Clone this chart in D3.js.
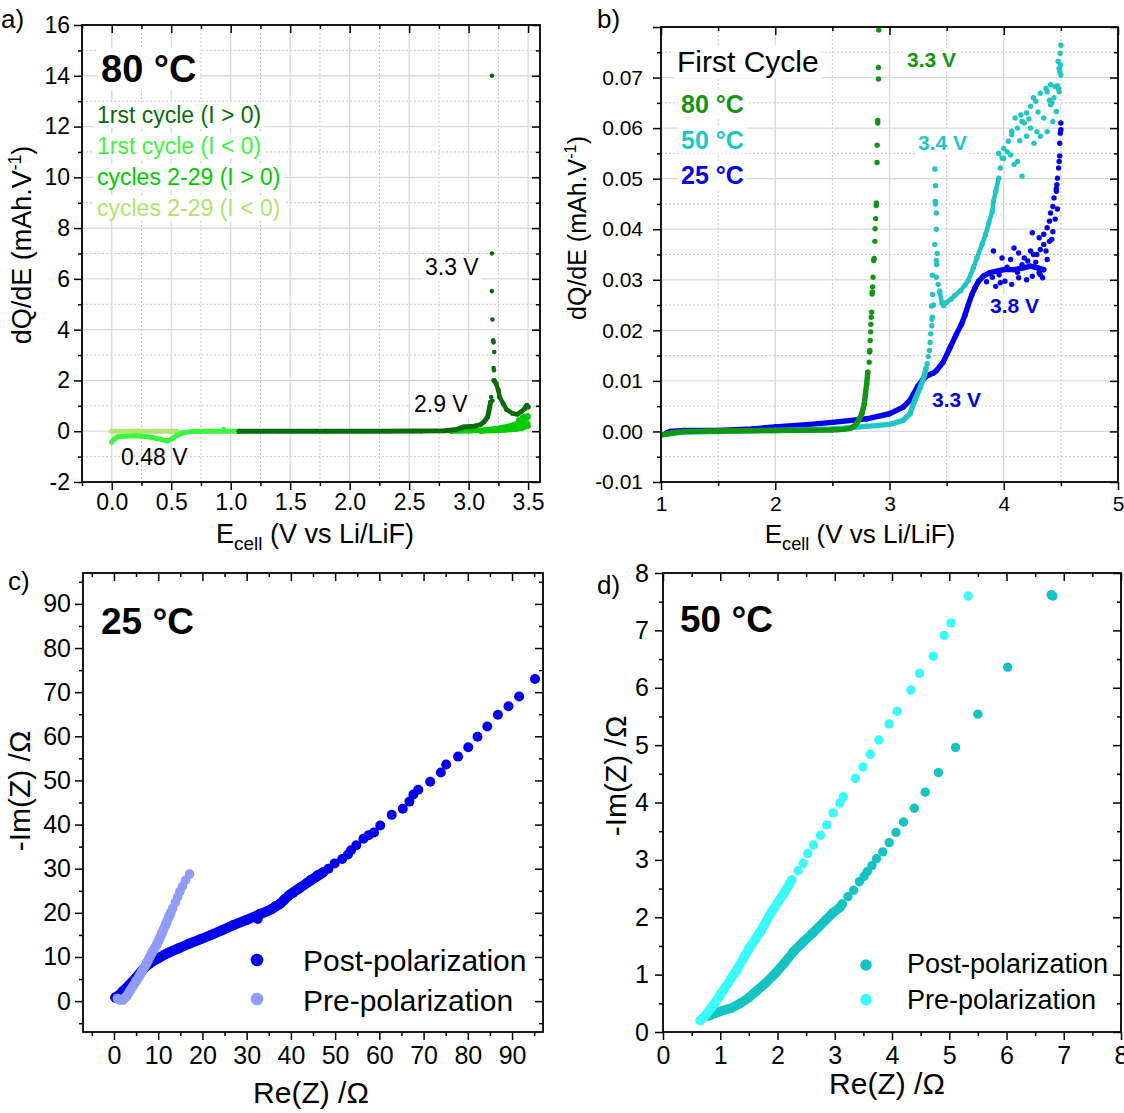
<!DOCTYPE html>
<html><head><meta charset="utf-8">
<script src="https://cdn.jsdelivr.net/npm/d3@7"></script>
<style>body{margin:0;background:#fff} text{font-family:"Liberation Sans",Arial,sans-serif}</style>
</head><body><svg id="c" width="1124" height="1113"></svg>
<script>
// ---------- Panel a data: dQ/dE at 80 °C ----------
const aCyc1PosLine = [[1.07,0],[1.4,0],[1.8,0],[2.2,0],[2.6,0.005],[2.8,0.02],[2.9,0.07],[2.96,0.17],[3.05,0.2],[3.1,0.26],[3.13,0.37],[3.16,0.56],[3.175,0.9],[3.185,1.15]];
const aCyc1PosPeak = [[3.196,14.0],[3.196,7.0],[3.195,5.52],[3.2,4.4],[3.207,3.58],[3.21,3.5],[3.215,3.12],[3.21,2.49],[3.213,2.4],[3.21,2.0],[3.19,1.35],[3.2,1.2]];
const aCyc1PosDecay = [[3.215,2.0],[3.23,1.88],[3.25,1.61],[3.26,1.35],[3.29,1.09],[3.32,0.85],[3.37,0.7],[3.41,0.67],[3.44,0.76],[3.47,0.89],[3.49,1.02],[3.5,0.95]];
const aCyc1Neg = [[0.0,-0.42],[0.02,-0.32],[0.05,-0.22],[0.1,-0.2],[0.2,-0.18],[0.3,-0.22],[0.35,-0.26],[0.42,-0.33],[0.47,-0.39],[0.5,-0.32],[0.53,-0.22],[0.59,-0.07],[0.68,-0.01],[0.8,0],[0.95,0],[1.07,0]];
const aCycNPosUpper = [[2.85,0],[3.0,0.01],[3.1,0.04],[3.25,0.12],[3.35,0.22],[3.42,0.33],[3.47,0.45],[3.5,0.55]];
const aCycNPosLower = [[3.1,0.0],[3.3,0.04],[3.4,0.08],[3.45,0.12],[3.5,0.2]];
const aCycNPosScatter = [[3.42,0.45],[3.45,0.55],[3.47,0.6],[3.49,0.5],[3.5,0.3],[3.48,0.25],[3.46,0.3],[3.5,0.62],[3.44,0.2],[3.4,0.15]];
const aCycNNeg = [[0.0,0],[0.25,0],[0.5,0],[0.55,0]];
const aLegend = ["1rst cycle (I > 0)","1rst cycle (I < 0)","cycles 2-29 (I > 0)","cycles 2-29 (I < 0)"];
const aXTicks = [0,0.5,1,1.5,2,2.5,3,3.5];
const aYTicks = [-2,0,2,4,6,8,10,12,14,16];

// ---------- Panel b data: first cycle ----------
const bBlueLine = [[1.05,-0.0003],[1.08,0.0],[1.2,0.0002],[1.5,0.0002],[1.8,0.0005],[2.0,0.0009],[2.3,0.0014],[2.5,0.0018],[2.8,0.0025],[3.0,0.0035],[3.12,0.0048],[3.18,0.0062],[3.21,0.0074],[3.25,0.009],[3.29,0.0102],[3.33,0.011],[3.38,0.0115],[3.41,0.012],[3.47,0.0137],[3.53,0.0166],[3.58,0.019],[3.63,0.0212],[3.66,0.023],[3.69,0.0251],[3.72,0.027],[3.75,0.0285],[3.78,0.0297],[3.82,0.0307],[3.88,0.0314],[3.94,0.0317],[4.0,0.032],[4.09,0.032],[4.18,0.0324],[4.235,0.0327],[4.29,0.0324],[4.35,0.032]];
const bBlueScatter = [[3.91,0.0357],[3.985,0.0343],[4.06,0.034],[4.09,0.0363],[4.13,0.0353],[4.18,0.0343],[4.21,0.0337],[4.235,0.0357],[4.26,0.035],[3.93,0.0287],[3.97,0.0294],[4.01,0.0297],[4.07,0.0291],[4.13,0.0304],[4.2,0.03],[4.25,0.0307],[4.31,0.0314],[4.34,0.0304],[3.85,0.0296],[3.9,0.0305],[3.96,0.031],[4.03,0.0325],[4.12,0.0315],[4.16,0.033],[4.28,0.0335],[4.32,0.031],[4.25,0.0393],[4.31,0.0383],[4.35,0.039],[4.38,0.0403],[4.4,0.0416],[4.41,0.0432],[4.43,0.0445],[4.44,0.0462],[4.46,0.0475],[4.465,0.0488],[4.47,0.0501],[4.48,0.0521],[4.485,0.0534],[4.49,0.057],[4.5,0.0597],[4.5,0.061],[4.37,0.0357],[4.29,0.035],[4.32,0.036],[4.4,0.0376],[4.35,0.037],[4.42,0.038],[4.45,0.042],[4.38,0.034],[4.43,0.0395],[4.47,0.044],[4.49,0.0545],[4.495,0.059],[4.46,0.048]];
const bCyanLine = [[1.05,-0.0005],[1.2,-0.0001],[1.5,0.0],[2.0,0.0002],[2.5,0.0005],[2.8,0.001],[3.0,0.0014],[3.12,0.0022],[3.18,0.0035],[3.22,0.0061],[3.27,0.0088],[3.3,0.0107],[3.32,0.0125]];
const bCyanSpike = [[3.33,0.0134],[3.34,0.0148],[3.35,0.016],[3.356,0.0176],[3.36,0.0193],[3.37,0.0209],[3.375,0.0226],[3.385,0.025],[3.37,0.0222],[3.368,0.0248],[3.376,0.0271],[3.375,0.0309],[3.397,0.0519],[3.403,0.0486],[3.4,0.0455],[3.402,0.045],[3.41,0.0432],[3.41,0.04],[3.397,0.037],[3.418,0.0352],[3.41,0.0338],[3.412,0.033],[3.41,0.0305],[3.426,0.0291],[3.44,0.0278]];
const bCyanRise = [[3.44,0.0275],[3.46,0.0253],[3.475,0.0249],[3.5,0.0255],[3.54,0.0262],[3.57,0.0269],[3.62,0.0278],[3.66,0.0289],[3.69,0.0299],[3.735,0.0324],[3.765,0.0343],[3.81,0.037],[3.84,0.0389],[3.87,0.0413],[3.9,0.0435],[3.91,0.0455],[3.93,0.0475],[3.956,0.0501]];
const bCyanScatter = [[3.97,0.0521],[3.985,0.0541],[4.0,0.056],[4.04,0.0574],[4.07,0.0587],[4.12,0.06],[4.16,0.0613],[4.2,0.063],[4.235,0.0643],[4.28,0.0653],[4.32,0.0669],[4.37,0.0679],[4.41,0.0686],[4.47,0.0684],[4.16,0.0505],[4.0,0.054],[3.956,0.055],[4.06,0.0547],[4.12,0.0534],[4.09,0.0528],[4.29,0.0593],[4.32,0.0584],[4.38,0.0593],[4.43,0.0613],[4.46,0.0633],[4.35,0.062],[4.2,0.0584],[4.265,0.057],[4.18,0.061],[4.235,0.06],[4.1,0.062],[4.15,0.0626],[4.07,0.0594],[4.26,0.066],[4.38,0.0672],[4.44,0.066],[4.41,0.0646],[4.485,0.0672],[4.5,0.0764],[4.494,0.0748],[4.476,0.0732],[4.485,0.0718],[4.5,0.0705],[4.49,0.0712],[4.498,0.0725],[4.45,0.0682],[4.42,0.065],[4.03,0.0553],[4.14,0.0575],[4.22,0.0618],[4.3,0.0632],[4.4,0.0655],[4.48,0.0678]];
const bGreenLine = [[1.0,-0.0007],[1.05,-0.0005],[1.1,-0.0003],[1.2,0.0],[1.5,0.0001],[2.0,0.0002],[2.5,0.0003],[2.6,0.0004],[2.656,0.0006],[2.7,0.0012],[2.73,0.0022],[2.758,0.0035],[2.78,0.0055],[2.79,0.0075],[2.8,0.0094],[2.81,0.0117]];
const bGreenSpike = [[2.822,0.0137],[2.825,0.0157],[2.828,0.016],[2.831,0.018],[2.835,0.0197],[2.837,0.0212],[2.84,0.0226],[2.844,0.0236],[2.848,0.0272],[2.85,0.0276],[2.852,0.0286],[2.856,0.0305],[2.862,0.0338],[2.866,0.0342],[2.872,0.0376],[2.874,0.0401],[2.879,0.0421],[2.884,0.0447],[2.885,0.0452],[2.891,0.0532],[2.892,0.0566],[2.897,0.061],[2.897,0.0615],[2.903,0.0697],[2.903,0.072],[2.906,0.0794]];
const bLegend = ["80 °C","50 °C","25 °C"];
const bXTicks = [1,2,3,4,5];
const bYTicks = [-0.01,0,0.01,0.02,0.03,0.04,0.05,0.06,0.07];

// ---------- Panel c data: EIS 25 °C ----------
const cPostLine = [[0.3,0.8],[1,1.2],[2,2.2],[3.4,3.6],[5,5.3],[6.6,7.2],[8,8.5],[9.8,9.6],[12,10.8],[14.7,12],[17,13],[19.5,14],[22,15],[24.3,16],[27,17.2],[30,18.4],[32.8,19.6],[35.6,20.8],[37.5,22],[39.6,24],[41.5,25.3],[43.7,26.8],[45.5,28],[47.3,29.2]];
const cPostDots = [[49.9,31.2],[51.6,32.2],[52.9,33.2],[53.6,34.2],[54.8,35.3],[56.4,36.8],[57.6,37.6],[58.8,38.2],[60.2,39.8],[62.8,42.2],[65.3,43.6],[66.8,45.2],[67.7,46.8],[68.8,47.9],[71.5,49.7],[73.9,51.8],[75.1,53.6],[77.8,55.4],[80.1,57.5],[82.2,59.9],[84.4,62.2],[86.8,64.9],[89.2,66.8],[91.6,69.0],[95.2,73.0],[32.5,18.6],[33,19.8],[48.5,30],[46,28.5],[44.5,27.5],[42,25.6],[40.5,24.5],[38.5,23],[36.5,21.5]];
const cPreLine = [[0.8,0.6],[1.2,0.3],[2,0.3],[2.8,1],[3.6,2.3],[5,4.5],[6.2,6.5],[7.4,8.6],[8.6,11],[9.8,13],[10.8,15.3],[11.8,17.6],[12.8,20]];
const cPreDots = [[13.3,21],[13.9,22.4],[14.4,23.6],[14.9,24.8],[15.5,26],[16.2,27.4],[17.1,28.8]];
const cTicks = [0,10,20,30,40,50,60,70,80,90];

// ---------- Panel d data: EIS 50 °C ----------
const dPostLine = [[0.8,0.28],[1.0,0.36],[1.2,0.42],[1.35,0.5],[1.5,0.6],[1.65,0.73],[1.8,0.86],[1.97,1.03],[2.12,1.2],[2.28,1.4],[2.45,1.57],[2.6,1.71],[2.72,1.83],[2.85,1.96],[2.97,2.08],[3.09,2.17],[3.13,2.23]];
const dPostDots = [[3.23,2.36],[3.33,2.47],[3.43,2.62],[3.51,2.71],[3.57,2.8],[3.65,2.9],[3.73,3.02],[3.84,3.14],[3.95,3.3],[4.07,3.48],[4.2,3.66],[4.39,3.9],[4.58,4.18],[4.81,4.52],[5.11,4.96],[5.5,5.54],[6.02,6.36],[6.81,7.6],[6.78,7.62]];
const dPreLine = [[0.65,0.2],[0.75,0.3],[0.9,0.5],[1.1,0.8],[1.3,1.1],[1.5,1.45],[1.7,1.75],[1.9,2.1],[2.1,2.4],[2.25,2.65]];
const dPreDots = [[2.36,2.81],[2.45,2.94],[2.53,3.11],[2.63,3.26],[2.75,3.43],[2.86,3.61],[2.97,3.82],[3.09,3.99],[3.15,4.1],[3.36,4.42],[3.49,4.62],[3.62,4.84],[3.77,5.09],[3.95,5.37],[4.09,5.59],[4.33,5.96],[4.48,6.25],[4.72,6.55],[4.91,6.91],[5.03,7.13],[5.33,7.6]];
const dTicks = [0,1,2,3,4,5,6,7,8];
const eisLegend = ["Post-polarization","Pre-polarization"];

// ---------- drawing ----------
const svg = d3.select('#c');
const hy = f => (d => f(d).replace('\u2212','-'));
let clipId = 0;
function panel(o){
  const g = svg.append('g');
  const x = d3.scaleLinear().domain(o.xd).range([o.l,o.r]);
  const y = d3.scaleLinear().domain(o.yd).range([o.b,o.t]);
  if(o.grid){
    const gg = g.append('g');
    gg.selectAll(null).data(o.xMinor).join('line').attr('x1',d=>x(d)).attr('x2',d=>x(d)).attr('y1',o.t).attr('y2',o.b)
      .attr('stroke','#c8c8c8').attr('stroke-dasharray','2,2').attr('stroke-width',1);
    gg.selectAll(null).data(o.yMinor).join('line').attr('y1',d=>y(d)).attr('y2',d=>y(d)).attr('x1',o.l).attr('x2',o.r)
      .attr('stroke','#c8c8c8').attr('stroke-dasharray','2,2').attr('stroke-width',1);
    gg.selectAll(null).data(o.xMajor).join('line').attr('x1',d=>x(d)).attr('x2',d=>x(d)).attr('y1',o.t).attr('y2',o.b)
      .attr('stroke','#d9d9d9').attr('stroke-width',1.3);
    gg.selectAll(null).data(o.yMajor).join('line').attr('y1',d=>y(d)).attr('y2',d=>y(d)).attr('x1',o.l).attr('x2',o.r)
      .attr('stroke','#d9d9d9').attr('stroke-width',1.3);
  }
  const id = 'clip'+(clipId++);
  svg.append('clipPath').attr('id',id).append('rect').attr('x',o.l).attr('y',o.t).attr('width',o.r-o.l).attr('height',o.b-o.t);
  const dg = g.append('g').attr('clip-path',`url(#${id})`);
  const ann = g.append('g');
  return {o,g,x,y,dg,ann};
}
function axes(P){
  const o=P.o, g=P.g.append('g');
  const style = s => { s.select('.domain').remove(); s.selectAll('line').attr('stroke','#000').attr('stroke-width',1.5);
    s.selectAll('text').attr('fill','#000').style('font-size',o.fs+'px').style('font-family','"Liberation Sans",Arial,sans-serif'); };
  g.append('g').attr('transform',`translate(0,${o.b})`).call(d3.axisBottom(P.x).tickValues(o.xMajor).tickSize(8).tickPadding(o.xpad).tickFormat(o.xFmt)).call(style);
  g.append('g').attr('transform',`translate(0,${o.b})`).call(d3.axisBottom(P.x).tickValues(o.xMinor).tickSize(4).tickFormat('')).call(style);
  g.append('g').attr('transform',`translate(0,${o.t})`).call(d3.axisTop(P.x).tickValues(o.xMajor).tickSize(-8).tickFormat('')).call(style);
  g.append('g').attr('transform',`translate(0,${o.t})`).call(d3.axisTop(P.x).tickValues(o.xMinor).tickSize(-4).tickFormat('')).call(style);
  g.append('g').attr('transform',`translate(${o.l},0)`).call(d3.axisLeft(P.y).tickValues(o.yMajor).tickSize(8).tickPadding(o.ypad).tickFormat(o.yFmt)).call(style);
  g.append('g').attr('transform',`translate(${o.l},0)`).call(d3.axisLeft(P.y).tickValues(o.yMinor).tickSize(4).tickFormat('')).call(style);
  g.append('g').attr('transform',`translate(${o.r},0)`).call(d3.axisRight(P.y).tickValues(o.yMajor).tickSize(-8).tickFormat('')).call(style);
  g.append('g').attr('transform',`translate(${o.r},0)`).call(d3.axisRight(P.y).tickValues(o.yMinor).tickSize(-4).tickFormat('')).call(style);
  g.append('rect').attr('x',o.l).attr('y',o.t).attr('width',o.r-o.l).attr('height',o.b-o.t).attr('fill','none').attr('stroke','#000').attr('stroke-width',1.8);
}
function series(P, line, dots, color, r, lw){
  if(line){
    P.dg.append('path').datum(line).attr('d', d3.line().x(d=>P.x(d[0])).y(d=>P.y(d[1])))
      .attr('fill','none').attr('stroke',color).attr('stroke-width',lw||2*r).attr('stroke-linejoin','round').attr('stroke-linecap','round');
    P.dg.append('g').selectAll('circle').data(line).join('circle').attr('cx',d=>P.x(d[0])).attr('cy',d=>P.y(d[1])).attr('r',r).attr('fill',color);
  }
  if(dots){
    P.dg.append('g').selectAll('circle').data(dots).join('circle').attr('cx',d=>P.x(d[0])).attr('cy',d=>P.y(d[1])).attr('r',r).attr('fill',color);
  }
}
function label(g, x, y, txt, size, color, weight, bg, anchor){
  const t = g.append('text').attr('x',x).attr('y',y).text(txt).style('font-size',size+'px')
    .attr('fill',color||'#000').style('font-weight',weight||'normal').attr('text-anchor',anchor||'start');
  if(bg){ const b=t.node().getBBox();
    g.insert('rect',()=>t.node()).attr('x',b.x-3).attr('y',b.y).attr('width',b.width+6).attr('height',b.height).attr('fill','#fff'); }
  return t;
}
function ecellTitle(x, y, size){
  const t = svg.append('text').attr('x',x).attr('y',y).attr('text-anchor','middle').style('font-size',size+'px');
  t.append('tspan').text('E');
  t.append('tspan').text('cell').style('font-size',(size*0.7)+'px').attr('dy',7);
  t.append('tspan').text(' (V vs Li/LiF)').attr('dy',-7);
}
function dqdeTitle(x, y, size){
  const t = svg.append('text').attr('transform',`translate(${x},${y}) rotate(-90)`).attr('text-anchor','middle').style('font-size',size+'px');
  t.append('tspan').text('dQ/dE (mAh.V');
  t.append('tspan').text('-1').style('font-size',(size*0.65)+'px').attr('dy',-10);
  t.append('tspan').text(')').attr('dy',10);
}
const rng = (a,b,s,skip)=>d3.range(a,b+s/2,s).map(v=>+v.toFixed(4)).filter(v=>!skip.some(m=>Math.abs(m-v)<1e-9));

// ---- Panel a ----
const colA = ['#0a6b0a','#3cf53c','#00cc00','#b0e46e'];
const PA = panel({l:82,r:540,t:25,b:482,xd:[-0.25,3.6],yd:[-2,16],grid:true,
  xMajor:aXTicks,xMinor:rng(-0.25,3.5,0.25,aXTicks),yMajor:aYTicks,yMinor:rng(-1,15,2,[]),
  fs:23,xpad:4,ypad:4,xFmt:d3.format('.1f'),yFmt:hy(d3.format('d'))});
series(PA, aCycNNeg, null, colA[3], 2.5, 5);
series(PA, aCycNPosUpper, aCycNPosScatter, colA[2], 2.5, 5);
series(PA, aCycNPosLower, null, colA[2], 2.5, 5);
series(PA, aCyc1Neg, [[0.94,0.08]], colA[1], 2.5, 5);
series(PA, aCyc1PosLine, aCyc1PosPeak, colA[0], 2.3, 5);
series(PA, aCyc1PosDecay, null, colA[0], 2.5, 4.5);
label(PA.ann, 101, 82, '80 °C', 38, '#000', 'bold', true);
aLegend.forEach((s,i)=>label(PA.ann, 97, 123+i*31, s, 23, colA[i], 'normal', true));
label(PA.ann, 425, 275, '3.3 V', 23, '#000', 'normal', true);
label(PA.ann, 414, 412, '2.9 V', 23, '#000', 'normal', true);
label(PA.ann, 121, 465, '0.48 V', 23, '#000', 'normal', false);
axes(PA);
dqdeTitle(31, 245, 27);
ecellTitle(315, 543, 27);
label(svg, 1, 28, 'a)', 26, '#000');

// ---- Panel b ----
const colB = ['#129612','#1fc6c6','#0000ee'];
const PB = panel({l:661,r:1118,t:27,b:482,xd:[1,5],yd:[-0.01,0.08],grid:true,
  xMajor:bXTicks,xMinor:rng(1.5,4.5,1,[]),yMajor:bYTicks.concat([0.08]),yMinor:rng(-0.005,0.075,0.01,[]),
  fs:21,xpad:6,ypad:10,xFmt:d3.format('d'),yFmt:d=>d>0.075?'':hy(d3.format('.2f'))(d)});
series(PB, bBlueLine, bBlueScatter, colB[2], 2.7, 5.4);
series(PB, bCyanLine, bCyanSpike, colB[1], 2.7, 5.4);
series(PB, bCyanRise, bCyanScatter, colB[1], 2.7, 4.5);
series(PB, bGreenLine, bGreenSpike, colB[0], 2.7, 5.4);
label(PB.ann, 677, 72, 'First Cycle', 30, '#000', 'normal', true);
bLegend.forEach((s,i)=>label(PB.ann, 681, 113+i*35.5, s, 25, colB[i], 'bold', true));
label(PB.ann, 907, 67, '3.3 V', 21, colB[0], 'bold', true);
label(PB.ann, 918, 150, '3.4 V', 21, colB[1], 'bold', true);
label(PB.ann, 990, 313, '3.8 V', 21, colB[2], 'bold', true);
label(PB.ann, 932, 407, '3.3 V', 21, colB[2], 'bold', true);
axes(PB);
dqdeTitle(586, 228, 25);
ecellTitle(860, 543, 26);
label(svg, 597, 28, 'b)', 26, '#000');

// ---- Panel c ----
const colC = ['#0000ee','#8f9cfb'];
const PC = panel({l:83,r:543,t:573,b:1032,xd:[-7,97],yd:[-7,97],grid:false,
  xMajor:cTicks,xMinor:rng(-5,95,10,[]),yMajor:cTicks,yMinor:rng(-5,95,10,[]),
  fs:25,xpad:6,ypad:4,xFmt:d3.format('d'),yFmt:d3.format('d')});
series(PC, cPostLine, cPostDots, colC[0], 5, 10);
series(PC, cPreLine, cPreDots, colC[1], 4.8, 9.6);
label(PC.ann, 101, 634, '25 °C', 37, '#000', 'bold');
eisLegend.forEach((s,i)=>{
  PC.ann.append('circle').attr('cx',257).attr('cy',960+i*39).attr('r',6.3).attr('fill',colC[i]);
  label(PC.ann, 303, 971+i*40, s, 30, '#000');
});
axes(PC);
svg.append('text').attr('transform','translate(30,791) rotate(-90)').attr('text-anchor','middle').style('font-size','30px').text('-Im(Z) /Ω');
svg.append('text').attr('x',311).attr('y',1103).attr('text-anchor','middle').style('font-size','30px').text('Re(Z) /Ω');
label(svg, 8, 590, 'c)', 26, '#000');

// ---- Panel d ----
const colD = ['#14c3c3','#38fbfb'];
const PD = panel({l:663,r:1121,t:573,b:1032,xd:[0,8],yd:[0,8],grid:false,
  xMajor:dTicks,xMinor:rng(0.5,7.5,1,[]),yMajor:dTicks,yMinor:rng(0.5,7.5,1,[]),
  fs:25,xpad:6,ypad:6,xFmt:d3.format('d'),yFmt:d3.format('d')});
series(PD, dPostLine, dPostDots, colD[0], 4.7, 9.4);
series(PD, dPreLine, dPreDots, colD[1], 4.7, 9.4);
label(PD.ann, 680, 632, '50 °C', 37, '#000', 'bold');
eisLegend.forEach((s,i)=>{
  PD.ann.append('circle').attr('cx',866).attr('cy',965+i*34.6).attr('r',5.8).attr('fill',colD[i]);
  label(PD.ann, 907, 973+i*35.5, s, 27, '#000');
});
axes(PD);
svg.append('text').attr('transform','translate(626,776) rotate(-90)').attr('text-anchor','middle').style('font-size','30px').text('-Im(Z) /Ω');
svg.append('text').attr('x',887).attr('y',1094).attr('text-anchor','middle').style('font-size','30px').text('Re(Z) /Ω');
label(svg, 597, 594, 'd)', 26, '#000');
</script></body></html>
